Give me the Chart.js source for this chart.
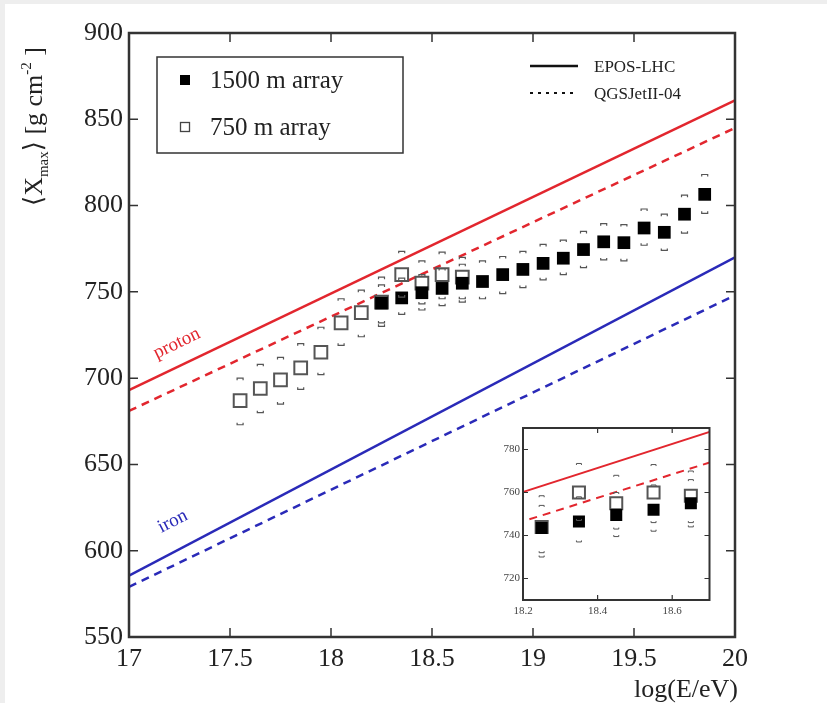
<!DOCTYPE html>
<html>
<head>
<meta charset="utf-8">
<title>Xmax vs energy</title>
<script src="https://cdn.jsdelivr.net/npm/chart.js@4"></script>
<style>
  html, body { margin: 0; padding: 0; background: #fff; }
  #wrap { position: relative; width: 827px; height: 703px; }
  #mainChart { position: absolute; left: 0; top: 0; }
  #insetChart { position: absolute; left: 470px; top: 415px; }
  .edge { position: absolute; background: #eeeeee; }
</style>
</head>
<body>
<div id="wrap">
  <div class="edge" style="left:0;top:0;width:827px;height:4px"></div>
  <div class="edge" style="left:0;top:0;width:5px;height:703px"></div>
  <canvas id="mainChart" width="827" height="703"></canvas>
  <canvas id="insetChart" width="250" height="210"></canvas>
</div>
<script>
// axis ticks
const xTicks = [17, 17.5, 18, 18.5, 19, 19.5, 20];
const yTicks = [550, 600, 650, 700, 750, 800, 850, 900];
const insetXTicks = [18.2, 18.4, 18.6];
const insetYTicks = [720, 740, 760, 780];

// 1500 m array (filled squares)
const energy1500 = [18.25, 18.35, 18.45, 18.55, 18.65, 18.75, 18.85, 18.95, 19.05, 19.15, 19.25, 19.35, 19.45, 19.55, 19.65, 19.75, 19.85];
const xmax1500 = [743.5, 746.5, 749.5, 752, 755, 756, 760, 763, 766.5, 769.5, 774.5, 779, 778.5, 787, 784.5, 795, 806.5];
const sysUp1500 = [754, 758, 760, 763.5, 766, 768, 770.5, 773.5, 777.5, 780, 785, 789.5, 789, 798, 795, 806, 818];
const sysLow1500 = [732, 737, 739.5, 742, 744, 746, 749, 752.5, 757, 760, 764, 768.5, 768, 777, 774, 784, 795.5];

// 750 m array (open squares)
const energy750 = [17.55, 17.65, 17.75, 17.85, 17.95, 18.05, 18.15, 18.25, 18.35, 18.45, 18.55, 18.65];
const xmax750 = [687, 694, 699, 706, 715, 732, 738, 744, 760, 755, 760, 758.5];
const sysUp750 = [700, 708, 712, 720, 729.5, 746, 751, 758.5, 773.5, 768, 773, 770];
const sysLow750 = [673, 680, 685, 693.5, 702, 719, 724, 730, 747, 743, 746, 746];

// model predictions (straight lines, end points)
const modelEnergy = [17, 20];
const protonEpos = [693, 861];
const protonQgs = [681, 845];
const ironEpos = [585.5, 770];
const ironQgs = [579, 748];

const serif = '"Liberation Serif", "DejaVu Serif", serif';
const RED = '#e2262e';
const BLUE = '#2a2ab8';

const pts = (xs, ys) => xs.map((x, i) => ({ x: x, y: ys[i] }));

// inward ticks on all four sides + frame
const frameTicks = {
  id: 'frameTicks',
  afterDatasetsDraw(chart, args, opts) {
    const { ctx, chartArea: a, scales: { x, y } } = chart;
    ctx.save();
    ctx.strokeStyle = '#333';
    ctx.lineWidth = opts.tickWidth;
    ctx.beginPath();
    x.ticks.forEach(t => {
      const px = x.getPixelForValue(t.value);
      ctx.moveTo(px, a.bottom); ctx.lineTo(px, a.bottom - opts.len);
      ctx.moveTo(px, a.top); ctx.lineTo(px, a.top + opts.len);
    });
    y.ticks.forEach(t => {
      const py = y.getPixelForValue(t.value);
      ctx.moveTo(a.left, py); ctx.lineTo(a.left + opts.len, py);
      ctx.moveTo(a.right, py); ctx.lineTo(a.right - opts.len, py);
    });
    ctx.stroke();
    ctx.lineWidth = opts.frame;
    ctx.strokeRect(a.left, a.top, a.width, a.height);
    ctx.restore();
  }
};

// small brackets for the systematic uncertainties
const sysBrackets = {
  id: 'sysBrackets',
  afterDatasetsDraw(chart, args, opts) {
    const { ctx, chartArea: a, scales: { x, y } } = chart;
    ctx.save();
    ctx.beginPath();
    ctx.rect(a.left, a.top, a.width, a.height);
    ctx.clip();
    ctx.strokeStyle = '#555';
    ctx.lineWidth = opts.width;
    const w = opts.half, h = opts.leg;
    chart.data.datasets.forEach(ds => {
      if (!ds.sysUp) return;
      ds.data.forEach((p, i) => {
        const px = x.getPixelForValue(p.x);
        const yu = y.getPixelForValue(ds.sysUp[i]);
        const yl = y.getPixelForValue(ds.sysLow[i]);
        ctx.beginPath();
        ctx.moveTo(px - w, yu + h); ctx.lineTo(px - w, yu); ctx.lineTo(px + w, yu); ctx.lineTo(px + w, yu + h);
        ctx.moveTo(px - w, yl - h); ctx.lineTo(px - w, yl); ctx.lineTo(px + w, yl); ctx.lineTo(px + w, yl - h);
        ctx.stroke();
      });
    });
    ctx.restore();
  }
};

function drawParts(ctx, parts, x, y) {
  let cx = x;
  parts.forEach(p => {
    ctx.font = p.size + 'px ' + serif;
    ctx.fillText(p.t, cx, y + (p.dy || 0));
    cx += ctx.measureText(p.t).width;
  });
}

// text labels, legends, axis titles
const annotations = {
  id: 'annotations',
  afterDraw(chart) {
    const ctx = chart.ctx;
    ctx.save();
    ctx.textBaseline = 'alphabetic';

    // y title
    ctx.save();
    ctx.translate(42, 206);
    ctx.rotate(-Math.PI / 2);
    ctx.fillStyle = '#222';
    drawParts(ctx, [
      { t: '\u27E8X', size: 26 },
      { t: 'max', size: 15, dy: 6 },
      { t: '\u27E9 [g cm', size: 26 },
      { t: '-2', size: 15, dy: -11 },
      { t: ' ]', size: 26 }
    ], 0, 0);
    ctx.restore();

    // x title
    ctx.fillStyle = '#222';
    ctx.font = '26px ' + serif;
    ctx.textAlign = 'right';
    ctx.fillText('log(E/eV)', 738, 697);
    ctx.textAlign = 'left';

    // legend box
    ctx.strokeStyle = '#333';
    ctx.lineWidth = 1.5;
    ctx.strokeRect(157, 57, 246, 96);
    ctx.fillStyle = '#000';
    ctx.fillRect(180, 75, 10, 10);
    ctx.lineWidth = 1.3;
    ctx.strokeStyle = '#444';
    ctx.strokeRect(180.5, 122.5, 9, 9);
    ctx.fillStyle = '#222';
    ctx.font = '25px ' + serif;
    ctx.fillText('1500 m array', 210, 88);
    ctx.fillText('750 m array', 210, 135);

    // model legend
    ctx.strokeStyle = '#111';
    ctx.lineWidth = 2.5;
    ctx.beginPath(); ctx.moveTo(530, 66); ctx.lineTo(578, 66); ctx.stroke();
    ctx.lineWidth = 2;
    ctx.setLineDash([3, 5]);
    ctx.beginPath(); ctx.moveTo(530, 93); ctx.lineTo(578, 93); ctx.stroke();
    ctx.setLineDash([]);
    ctx.font = '17px ' + serif;
    ctx.fillText('EPOS-LHC', 594, 72);
    ctx.fillText('QGSJetII-04', 594, 99);

    // proton / iron
    ctx.textAlign = 'center';
    ctx.font = '19px ' + serif;
    ctx.save();
    ctx.translate(179, 348);
    ctx.rotate(-0.45);
    ctx.fillStyle = RED;
    ctx.fillText('proton', 0, 0);
    ctx.restore();
    ctx.save();
    ctx.translate(175, 526);
    ctx.rotate(-0.47);
    ctx.fillStyle = BLUE;
    ctx.fillText('iron', 0, 0);
    ctx.restore();

    ctx.restore();
  }
};

const whiteArea = {
  id: 'whiteArea',
  beforeDraw(chart) {
    const { ctx, chartArea: a } = chart;
    ctx.save();
    ctx.fillStyle = '#fff';
    ctx.fillRect(a.left, a.top, a.width, a.height);
    ctx.restore();
  }
};

function modelLines(width) {
  return [
    { data: pts(modelEnergy, protonEpos), showLine: true, borderColor: RED, borderWidth: width, pointRadius: 0, order: 3, clip: 0 },
    { data: pts(modelEnergy, protonQgs), showLine: true, borderColor: RED, borderWidth: width, borderDash: [8, 6], pointRadius: 0, order: 4, clip: 0 },
    { data: pts(modelEnergy, ironEpos), showLine: true, borderColor: BLUE, borderWidth: width, pointRadius: 0, order: 5, clip: 0 },
    { data: pts(modelEnergy, ironQgs), showLine: true, borderColor: BLUE, borderWidth: width, borderDash: [8, 6], pointRadius: 0, order: 6, clip: 0 }
  ];
}

function dataSets(rFilled, rOpen) {
  return [
    { data: pts(energy1500, xmax1500), sysUp: sysUp1500, sysLow: sysLow1500,
      pointStyle: 'rect', pointRadius: rFilled, backgroundColor: '#000', borderColor: '#000', borderWidth: 0, order: 1, clip: 0 },
    { data: pts(energy750, xmax750), sysUp: sysUp750, sysLow: sysLow750,
      pointStyle: 'rect', pointRadius: rOpen, backgroundColor: '#fff', borderColor: '#555', borderWidth: 2, order: 2, clip: 0 }
  ];
}

new Chart(document.getElementById('mainChart'), {
  type: 'scatter',
  data: { datasets: dataSets(9, 9).concat(modelLines(2.5)) },
  plugins: [whiteArea, sysBrackets, frameTicks, annotations],
  options: {
    responsive: false,
    animation: false,
    layout: { padding: { left: 0, top: 33, right: 92, bottom: 0 } },
    plugins: {
      legend: { display: false },
      tooltip: { enabled: false },
      frameTicks: { len: 9, tickWidth: 1.5, frame: 2.5 },
      sysBrackets: { half: 3, leg: 2, width: 1.2 }
    },
    scales: {
      x: {
        type: 'linear', min: 17, max: 20,
        afterBuildTicks: s => { s.ticks = xTicks.map(v => ({ value: v })); },
        afterFit: s => { s.height = 66; },
        grid: { display: false, drawTicks: false },
        border: { display: false },
        ticks: { font: { family: serif, size: 26 }, color: '#222', padding: 7, maxRotation: 0, callback: v => String(v) }
      },
      y: {
        type: 'linear', min: 550, max: 900,
        afterBuildTicks: s => { s.ticks = yTicks.map(v => ({ value: v })); },
        afterFit: s => { s.width = 129; },
        grid: { display: false, drawTicks: false },
        border: { display: false },
        ticks: { font: { family: serif, size: 26 }, color: '#222', padding: 6, callback: v => String(v) }
      }
    }
  }
});

new Chart(document.getElementById('insetChart'), {
  type: 'scatter',
  data: { datasets: dataSets(8.5, 8.5).concat(modelLines(2)) },
  plugins: [whiteArea, sysBrackets, frameTicks],
  options: {
    responsive: false,
    animation: false,
    layout: { padding: { left: 0, top: 13, right: 10, bottom: 0 } },
    plugins: {
      legend: { display: false },
      tooltip: { enabled: false },
      frameTicks: { len: 5, tickWidth: 1.2, frame: 2 },
      sysBrackets: { half: 2.5, leg: 1.5, width: 1 }
    },
    scales: {
      x: {
        type: 'linear', min: 18.2, max: 18.7,
        afterBuildTicks: s => { s.ticks = insetXTicks.map(v => ({ value: v })); },
        afterFit: s => { s.height = 25; },
        grid: { display: false, drawTicks: false },
        border: { display: false },
        ticks: { font: { family: serif, size: 11 }, color: '#444', padding: 5, maxRotation: 0, callback: v => String(v) }
      },
      y: {
        type: 'linear', min: 710, max: 790,
        afterBuildTicks: s => { s.ticks = insetYTicks.map(v => ({ value: v })); },
        afterFit: s => { s.width = 53; },
        grid: { display: false, drawTicks: false },
        border: { display: false },
        ticks: { font: { family: serif, size: 11 }, color: '#444', padding: 3, callback: v => String(v) }
      }
    }
  }
});
</script>
</body>
</html>
